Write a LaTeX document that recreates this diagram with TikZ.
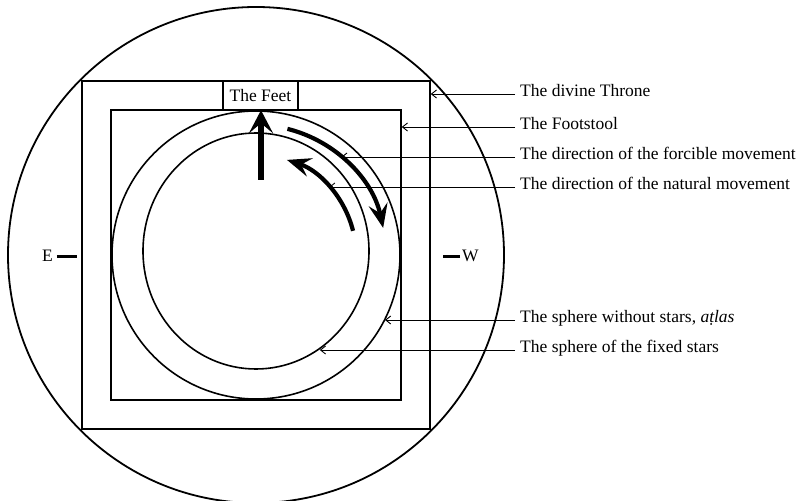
\documentclass[tikz,border=0pt]{standalone}
\usepackage{fontspec}
\setmainfont{Liberation Serif}
\usepackage{tikz}
\usetikzlibrary{shapes.geometric, arrows.meta, calc, positioning}

\begin{document}
\begin{tikzpicture}[
  x=1pt, y=1pt,
  every node/.style={font=\fontsize{17.5}{21}\selectfont},
  ring/.style={circle, draw=black, line width=1.6pt, inner sep=0pt},
  frame/.style={rectangle, draw=black, line width=1.6pt, inner sep=0pt},
  bold arrow/.style={line width=4.2pt, -{Stealth[length=24pt, width=19pt, inset=9pt]}},
  label line/.style={draw=black, line width=0.9pt, -{Straight Barb[length=5pt, width=8pt]}},
  label text/.style={anchor=west, inner xsep=5pt, inner ysep=0pt, text height=5pt, text depth=0pt},
  wind mark/.style={line width=2.6pt}
]
\useasboundingbox (-256,-246) rectangle (540,255);
\node[ring, minimum size=496pt, line width=1.8pt] (world) at (0,0) {};
\node[frame, minimum size=348pt] (throne) at (0,0) {};
\node[frame, minimum size=290pt] (footstool) at (0,0) {};
\node[ring, minimum size=288pt] (atlas) at (0,0) {};
\node[ellipse, draw=black, line width=1.6pt, inner sep=0pt, minimum width=226pt, minimum height=236pt] (fixed) at (0,4) {};
\node[frame, minimum width=75pt, minimum height=28.5pt] (feet) at (4.5,159.5) {The Feet};

\coordinate (stem) at (5,75);
\draw[line width=6.5pt, -{Stealth[length=23pt, width=24pt, inset=10pt]}] (stem) -- (stem |- atlas.north);
\draw[bold arrow] (76:130) arc[start angle=76, end angle=12, radius=130];
\draw[bold arrow] (14:100) arc[start angle=14, end angle=72, radius=100];
\coordinate (forc) at (49:130);
\coordinate (nat) at (43:100);

\node[label text] (lthrone) at (259,161) {The divine Throne};
\node[label text] (lfoot) at (259,128) {The Footstool};
\node[label text] (lforc) at (259,98) {The direction of the forcible movement};
\node[label text] (lnat) at (259,68) {The direction of the natural movement};
\node[label text] (latlas) at (259,-65) {The sphere without stars, \textit{a\d{t}las}};
\node[label text] (lfixed) at (259,-95) {The sphere of the fixed stars};

\draw[label line] (lthrone.west) -- (lthrone.west -| throne.east);
\draw[label line] (lfoot.west) -- (lfoot.west -| footstool.east);
\draw[label line] (lforc.west) -- (lforc.west -| forc);
\draw[label line] (lnat.west) -- (lnat.west -| nat);
\draw[label line] (latlas.west) -- (latlas.west -| atlas.-27);
\draw[label line] (lfixed.west) -- (lfixed.west -| fixed.-57);

\node[anchor=base east, inner sep=0pt] (east) at (-203,-6) {E};
\node[anchor=base west, inner sep=0pt] (west) at (206,-6) {W};
\draw[wind mark] ([xshift=4pt]east.east |- 0,-1.5) -- ++(20,0);
\draw[wind mark] ([xshift=-2pt]west.west |- 0,-1.5) -- ++(-17,0);
\end{tikzpicture}
\end{document}
